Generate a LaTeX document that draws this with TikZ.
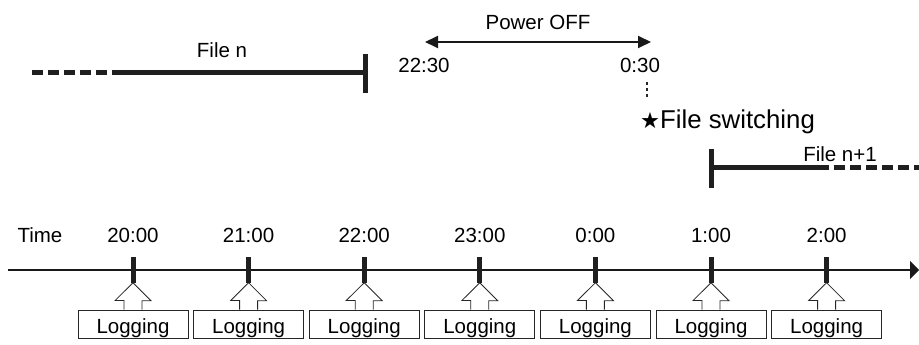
\documentclass[tikz,border=0pt]{standalone}
\usepackage{fontspec}
\setmainfont{Liberation Sans}
\newfontfamily\starfont{DejaVu Sans}
\usetikzlibrary{arrows.meta,positioning,calc}

\begin{document}
\begin{tikzpicture}[
  x=0.03cm,
  y=-0.03cm,
  font=\fontsize{17.5}{21}\selectfont,
  >=Triangle,
  axis/.style={draw=black!90,line width=1.3pt},
  tickmark/.style={fill=black!88,inner sep=0pt,minimum width=0.15cm,minimum height=0.75cm},
  logbox/.style={
    draw=black!85,
    line width=0.7pt,
    minimum width=3.3cm,
    inner ysep=0pt,
    text height=0.69cm,
    text depth=0.15cm
  },
  hollow/.style={draw=black!85,line width=0.7pt,line join=miter},
  fileline/.style={draw=black!88,line width=0.15cm},
  filedash/.style={fileline,dash pattern=on 0.33cm off 0.15cm},
  offarrow/.style={<->,draw=black!90,line width=1.6pt,>={Triangle[length=0.39cm,width=0.36cm]}},
  dotline/.style={draw=black!85,line width=0.08cm,dash pattern=on 0.09cm off 0.09cm}
]
\useasboundingbox (0,0) rectangle (919,345);

% time axis
\coordinate (ax-a) at (8,270);
\coordinate (ax-b) at (919,270);
\draw[axis,-{Triangle[length=0.27cm,width=0.54cm]}] (ax-a) -- (ax-b);
\node (time) at (40,235) {Time};

\foreach \h [count=\i] in {20:00,21:00,22:00,23:00,0:00,1:00,2:00} {
  \pgfmathsetmacro\xx{133+115.6*(\i-1)}
  \node[tickmark] (tick\i) at (\xx,270) {};
  \node (hour\i) at (\xx,235) {\h};
  \node[logbox] (log\i) at (\xx,324) {Logging};
  \draw[hollow] (log\i.north) ++(-9,0) -- ++(0,-9) -- ++(-9,0)
    -- (tick\i.south) -- ++(18,18) -- ++(-9,0) -- ++(0,9);
}

% file n
\coordinate (fn-a) at (32,73);
\coordinate (fn-b) at (113,73);
\coordinate (fn-c) at (365,73);
\draw[filedash] (fn-a) -- (fn-b);
\draw[fileline] (fn-b) -- (fn-c);
\draw[fileline] (fn-c) ++(0,-19) -- ++(0,39);
\node (file-n) at (222,50) {File n};

% power off
\coordinate (off-a) at (425,42);
\coordinate (off-b) at (651,42);
\draw[offarrow] (off-a) -- (off-b);
\node (power) at (538,22) {Power OFF};
\node (t2230) at (424,65) {22:30};
\node (t0030) at (640,65) {0:30};

\coordinate (sw-a) at (647,82);
\coordinate (sw-b) at (647,99);
\draw[dotline] (sw-a) -- (sw-b);
\node[anchor=west,inner sep=0pt,font=\fontsize{22}{26}\selectfont] (switch) at (640,122)
  {{\starfont\fontsize{19}{23}\selectfont ★}File switching};

% file n+1
\coordinate (fm-a) at (711,168);
\coordinate (fm-b) at (818,168);
\coordinate (fm-c) at (919,168);
\draw[fileline] (fm-a) -- (fm-b);
\draw[filedash] (fm-b) -- (fm-c);
\draw[fileline] (fm-a) ++(0,-19) -- ++(0,39);
\node (file-m) at (840,154) {File n+1};
\end{tikzpicture}
\end{document}
